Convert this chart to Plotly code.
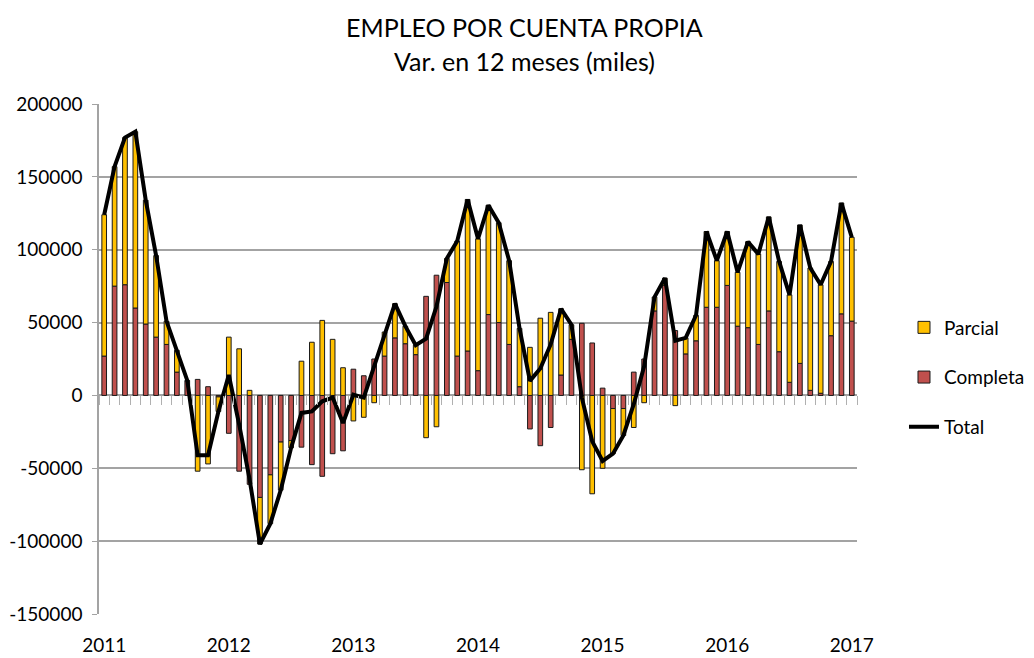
import plotly.graph_objects as go

months = ["ene", "feb", "mar", "abr", "may", "jun", "jul", "ago", "sep", "oct", "nov", "dic"]
years = ["2011", "2012", "2013", "2014", "2015", "2016", "2017"]
categories = [f"{m}-{y[2:]}" for y in years[:-1] for m in months] + ["ene-17"]

completa = [27000, 75000, 76000, 60000, 49000, 40000, 35000, 16000, 10000, 11000, 6000, -1000,
            -26000, -52000, -61000, -70000, -54500, -32000, -31000, -35500, -47500, -55500, -40000, -38000,
            18000, 13500, 25000, 27000, 39500, 35500, 28000, 68000, 82500, 77500, 27000, 30500,
            17000, 55500, 50000, 35000, 6000, -23000, -34500, -22000, 14000, 38500, 49500, 36000,
            5000, -9000, -9000, 16000, 25000, 58000, 75500, 44500, 28500, 37500, 60500, 60500,
            75500, 47500, 46500, 35000, 58000, 30000, 9000, 22000, 3500, 1500, 41000, 56000,
            51000]

parcial = [97000, 82000, 101000, 121000, 85000, 56000, 16000, 15000, 300, -52000, -47000, -10000,
           40000, 32000, 3500, -32000, -33500, -33000, -5000, 23500, 36500, 51500, 38500, 19000,
           -17500, -15000, -5000, 16500, 23500, 12000, 6500, -29000, -21500, 16500, 79000, 104000,
           90500, 75000, 68500, 57500, 40000, 33000, 53000, 57000, 45500, 10000, -51000, -67500,
           -50000, -31000, -18500, -22000, -5000, 9500, 5000, -7000, 11000, 17500, 52000, 32000,
           37000, 37000, 59000, 62000, 64500, 62000, 60000, 95000, 84000, 74500, 51000, 76000,
           57500]

total = [124000, 157000, 177000, 181000, 134000, 96000, 51000, 31000, 10300, -41000, -41000, -11000,
         14000, -20000, -57500, -102000, -88000, -65000, -36000, -12000, -11000, -4000, -1500, -19000,
         500, -1500, 20000, 43500, 63000, 47500, 34500, 39000, 61000, 94000, 106000, 134500,
         107500, 130500, 118500, 92500, 46000, 10000, 18500, 35000, 59500, 48500, -1500, -31500,
         -45000, -40000, -27500, -6000, 20000, 67500, 80500, 37500, 39500, 55000, 112500, 92500,
         112500, 84500, 105500, 97000, 122500, 92000, 69000, 117000, 87500, 76000, 92000, 132000,
         108500]

y_ticks = [-150000, -100000, -50000, 0, 50000, 100000, 150000, 200000]
y_tick_text = ["-150000", "-100000", "-50000", "0", "50000", "100000", "150000", "200000"]

year_ticks = [c for c in categories if c.startswith("ene")]

FONT = "Lato"
GRID = "#a3a3a3"

fig = go.Figure()
fig.add_trace(go.Bar(x=categories, y=completa, name="Completa", legendrank=2, legendgroup="c",
                     marker=dict(color="#C0504D", line=dict(color="#1a1a1a", width=1)), width=0.45))
fig.add_trace(go.Bar(x=categories, y=parcial, name="Parcial", legendrank=1, legendgroup="p",
                     marker=dict(color="#FFC000", line=dict(color="#1a1a1a", width=1)), width=0.45))
fig.add_trace(go.Scatter(x=categories, y=total, name="Total", legendrank=3, legendgroup="t",
                         mode="lines", line=dict(color="black", width=4), xaxis="x2"))

fig.update_layout(
    width=1026, height=650,
    paper_bgcolor="white", plot_bgcolor="white",
    barmode="relative",
    margin=dict(l=91, r=177, t=96, b=44, autoexpand=False),
    font=dict(family=FONT, size=19, color="black"),
    showlegend=True,
    legend=dict(x=1.062, xanchor="left", y=0.599, yanchor="top",
                traceorder="grouped", tracegroupgap=22,
                font=dict(family=FONT, size=19, color="black"),
                bgcolor="rgba(0,0,0,0)"),
    xaxis=dict(type="category", categoryorder="array", categoryarray=categories,
               range=[-0.5, 72.5], tickmode="array", tickvals=year_ticks, ticktext=years,
               ticks="", showgrid=False, showline=False, zeroline=False, automargin=False,
               ticklabelstandoff=18, tickfont=dict(size=19)),
    xaxis2=dict(type="category", categoryorder="array", categoryarray=categories,
                overlaying="x", anchor="free", position=150000 / 350000,
                range=[-0.5, 72.5], tickmode="linear", tick0=0, dtick=1,
                tickson="boundaries", ticks="outside", ticklen=9, tickwidth=1,
                tickcolor="#b0b0b0", showticklabels=False, showgrid=False,
                showline=False, zeroline=False, automargin=False),
    yaxis=dict(range=[-150000, 200000], tickmode="array", tickvals=y_ticks, ticktext=y_tick_text,
               showgrid=True, gridcolor=GRID, gridwidth=1.5,
               zeroline=True, zerolinecolor=GRID, zerolinewidth=1.5,
               showline=True, linecolor=GRID, linewidth=1.5,
               ticks="outside", ticklen=5, tickcolor=GRID, automargin=False,
               ticklabelstandoff=6, tickfont=dict(size=19)),
    annotations=[
        dict(text="EMPLEO POR CUENTA PROPIA", xref="paper", yref="paper",
             x=(524 - 99) / 758, y=(614 - 27) / 510, xanchor="center", yanchor="middle",
             showarrow=False, font=dict(family=FONT, size=25, color="black")),
        dict(text="Var. en 12 meses (miles)", xref="paper", yref="paper",
             x=(524 - 99) / 758, y=(614 - 61) / 510, xanchor="center", yanchor="middle",
             showarrow=False, font=dict(family=FONT, size=25, color="black")),
    ],
)

fig.write_html("out.html")
